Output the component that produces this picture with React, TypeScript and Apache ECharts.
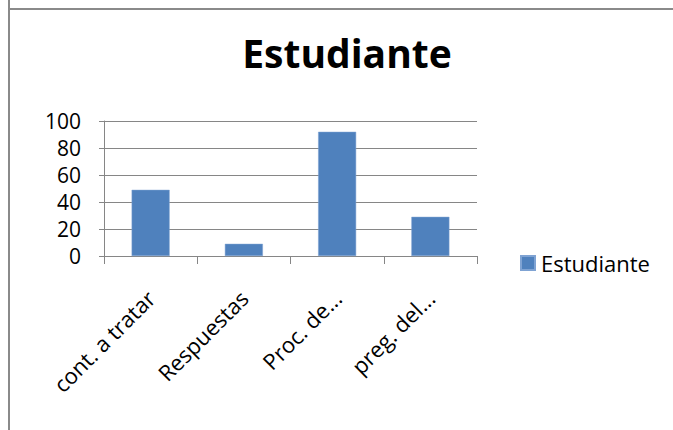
import React, { useEffect, useRef } from "react";
import * as echarts from "echarts";

const categories = ["cont. a tratar", "Respuestas", "Proc. de...", "preg. del..."];
const values = [49, 9, 92, 29];
const seriesName = "Estudiante";
const titleText = "Estudiante";

export default function App() {
  const ref = useRef<HTMLDivElement>(null);
  useEffect(() => {
    if (!ref.current) return;
    const chart = echarts.init(ref.current, null, { renderer: "svg" });
    const font = "'Open Sans', 'Noto Sans', sans-serif";
    chart.setOption({
      animation: false,
      backgroundColor: "#ffffff",
      title: {
        text: titleText,
        left: 347,
        top: 33,
        padding: 0,
        textAlign: "center",
        textStyle: { fontFamily: font, fontSize: 39, fontWeight: "bold", color: "#000000" },
      },
      legend: {
        data: [seriesName],
        left: 520,
        top: 252,
        padding: 0,
        itemWidth: 14,
        itemHeight: 14,
        icon: "rect",
        textStyle: { fontFamily: font, fontSize: 22, lineHeight: 22, color: "#000000", padding: [0, 0, 0, 1] },
      },
      grid: { left: 104, top: 121, width: 373, height: 135, containLabel: false },
      xAxis: {
        type: "category",
        data: categories,
        axisLine: { lineStyle: { color: "#868686", width: 1 } },
        axisTick: { show: true, length: 8, alignWithLabel: false, lineStyle: { color: "#868686" } },
        axisLabel: {
          rotate: 45,
          interval: 0,
          margin: 38,
          fontFamily: font,
          fontSize: 22,
          color: "#000000",
        },
      },
      yAxis: {
        type: "value",
        min: 0,
        max: 100,
        interval: 20,
        axisLine: { show: true, lineStyle: { color: "#868686", width: 1 } },
        axisTick: { show: true, length: 5, lineStyle: { color: "#868686" } },
        splitLine: { show: true, lineStyle: { color: "#868686", width: 1 } },
        axisLabel: { margin: 23, fontFamily: font, fontSize: 21, color: "#000000" },
      },
      series: [
        {
          name: seriesName,
          type: "bar",
          data: values,
          barWidth: 38,
          itemStyle: { color: "#4f81bd", borderColor: "#7fa3d3", borderWidth: 0.5 },
        },
      ],
      graphic: [
        { type: "line", shape: { x1: 9, y1: 0, x2: 9, y2: 430 }, style: { stroke: "#8a8a8a", lineWidth: 2 } },
        { type: "line", shape: { x1: 8, y1: 9, x2: 673, y2: 9 }, style: { stroke: "#8a8a8a", lineWidth: 2 } },
      ],
    });
    return () => chart.dispose();
  }, []);
  return (
    <div
      ref={ref}
      style={{ position: "fixed", left: 0, top: 0, width: 673, height: 430 }}
    />
  );
}
